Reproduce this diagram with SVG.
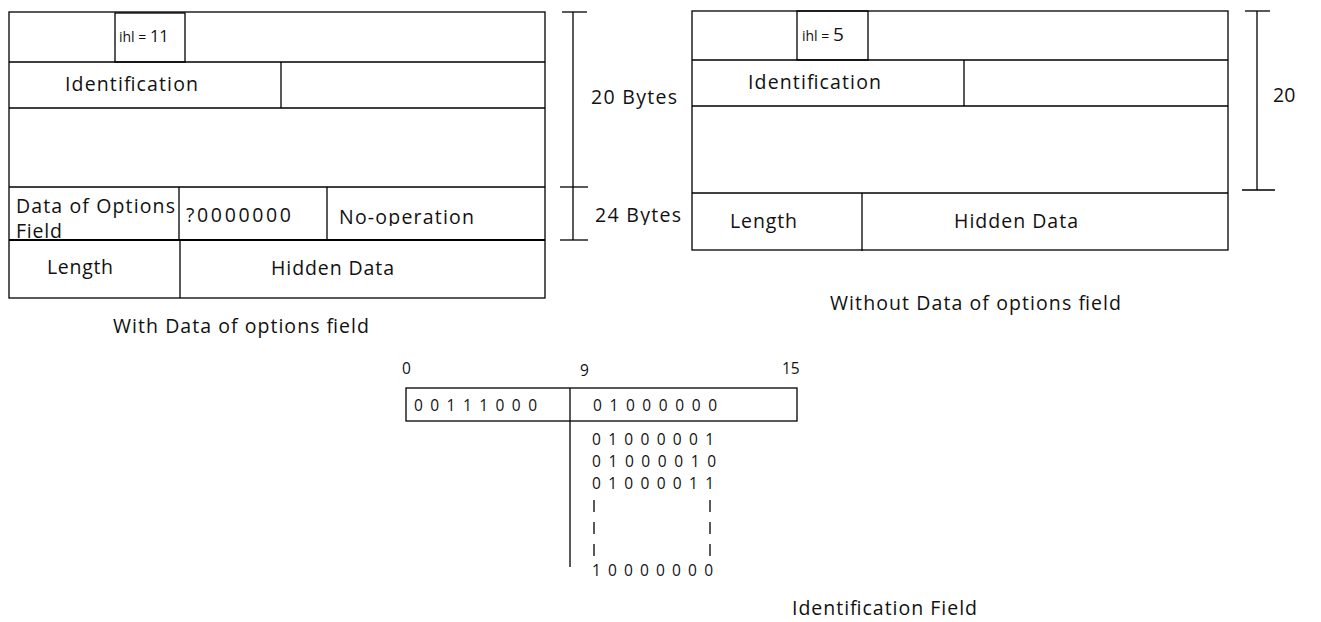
<svg xmlns="http://www.w3.org/2000/svg" width="1321" height="622" viewBox="0 0 1321 622">
<style>
.ln{stroke:#000;stroke-width:1.3;fill:none}
.bx{stroke:#000;stroke-width:1.3;fill:#fff}
.t{font-family:"Open Sans","Liberation Sans",sans-serif;font-size:19.5px;fill:#111}
.s{font-family:"Open Sans","Liberation Sans",sans-serif;font-size:14px;fill:#111}
.b{font-family:"Open Sans","Liberation Sans",sans-serif;font-size:15.5px;fill:#111}
</style>
<defs>
<clipPath id="c1"><rect x="10" y="188" width="534" height="52"/></clipPath>
<clipPath id="c2"><rect x="328" y="188" width="216" height="38"/></clipPath>
<clipPath id="c3"><rect x="585" y="195" width="110" height="30"/></clipPath>
</defs>
<rect width="1321" height="622" fill="#fff"/>

<g id="left-header">
<rect class="bx" x="9" y="12" width="536" height="286"/>
<line class="ln" x1="9" y1="62" x2="545" y2="62"/>
<line class="ln" x1="9" y1="108" x2="545" y2="108"/>
<line class="ln" x1="9" y1="187" x2="545" y2="187"/>
<line x1="9" y1="240" x2="545" y2="240" stroke="#000" stroke-width="2.2"/>
<rect class="ln" x="115" y="13" width="70" height="49"/>
<text class="s" x="119" y="42">ihl = <tspan font-size="16.5px">11</tspan></text>
<line class="ln" x1="281" y1="62" x2="281" y2="108"/>
<text class="t" x="65" y="91" textLength="133">Identification</text>
<line class="ln" x1="179" y1="187" x2="179" y2="240"/>
<line class="ln" x1="327" y1="187" x2="327" y2="240"/>
<g clip-path="url(#c1)">
<text class="t" x="16" y="213" textLength="159">Data of Options</text>
<text class="t" x="16" y="238" textLength="46">Field</text>
</g>
<text class="t" x="186" y="222" textLength="105">?0000000</text>
<g clip-path="url(#c2)"><text class="t" x="339" y="224" textLength="135">No-operation</text></g>
<line class="ln" x1="180" y1="240" x2="180" y2="298"/>
<text class="t" x="47" y="274" textLength="66">Length</text>
<text class="t" x="271" y="275" textLength="123">Hidden Data</text>
<text class="t" x="113" y="333" textLength="256">With Data of options field</text>
</g>

<g id="left-dimension">
<line class="ln" x1="573" y1="12" x2="573" y2="240"/>
<line class="ln" x1="562" y1="12" x2="587" y2="12"/>
<line class="ln" x1="560" y1="187" x2="588" y2="187"/>
<line class="ln" x1="560" y1="240" x2="588" y2="240"/>
<text class="t" x="591" y="104" textLength="86">20 Bytes</text>
<g clip-path="url(#c3)"><text class="t" x="595" y="222" textLength="86">24 Bytes</text></g>
</g>

<g id="right-header">
<rect class="bx" x="692" y="11" width="536" height="239"/>
<line class="ln" x1="692" y1="60" x2="1228" y2="60"/>
<line class="ln" x1="692" y1="106" x2="1228" y2="106"/>
<line class="ln" x1="692" y1="193" x2="1228" y2="193"/>
<rect class="ln" x="797" y="11" width="71" height="49"/>
<text class="s" x="802" y="41">ihl = <tspan font-size="19px">5</tspan></text>
<line class="ln" x1="964" y1="60" x2="964" y2="106"/>
<text class="t" x="748" y="89" textLength="133">Identification</text>
<line class="ln" x1="862" y1="193" x2="862" y2="251"/>
<text class="t" x="730" y="228" textLength="67">Length</text>
<text class="t" x="954" y="228" textLength="124">Hidden Data</text>
<text class="t" x="830" y="310" textLength="291">Without Data of options field</text>
</g>

<g id="right-dimension">
<line class="ln" x1="1257" y1="11" x2="1257" y2="190"/>
<line class="ln" x1="1245" y1="11" x2="1270" y2="11"/>
<line class="ln" x1="1242" y1="190" x2="1275" y2="190"/>
<text class="t" x="1273" y="102" font-size="21px">20</text>
</g>

<g id="identification-field">
<text class="b" x="402" y="374">0</text>
<text class="b" x="580" y="376">9</text>
<text class="b" x="782" y="374">15</text>
<rect class="bx" x="406" y="388" width="391" height="33"/>
<line class="ln" x1="570" y1="388" x2="570" y2="567"/>
<text class="b" x="414" y="411" textLength="123">0 0 1 1 1 0 0 0</text>
<text class="b" x="593" y="411" textLength="124">0 1 0 0 0 0 0 0</text>
<text class="b" x="592" y="445" textLength="122">0 1 0 0 0 0 0 1</text>
<text class="b" x="592" y="467" textLength="124">0 1 0 0 0 0 1 0</text>
<text class="b" x="592" y="489" textLength="122">0 1 0 0 0 0 1 1</text>
<g class="ln"><line x1="594" y1="500" x2="594" y2="512"/><line x1="594" y1="522" x2="594" y2="534"/><line x1="594" y1="544" x2="594" y2="556"/>
<line x1="710" y1="500" x2="710" y2="512"/><line x1="710" y1="522" x2="710" y2="534"/><line x1="710" y1="544" x2="710" y2="556"/></g>
<text class="b" x="592" y="576" textLength="121">1 0 0 0 0 0 0 0</text>
<text class="t" x="792" y="615" textLength="185">Identification Field</text>
</g>
</svg>
